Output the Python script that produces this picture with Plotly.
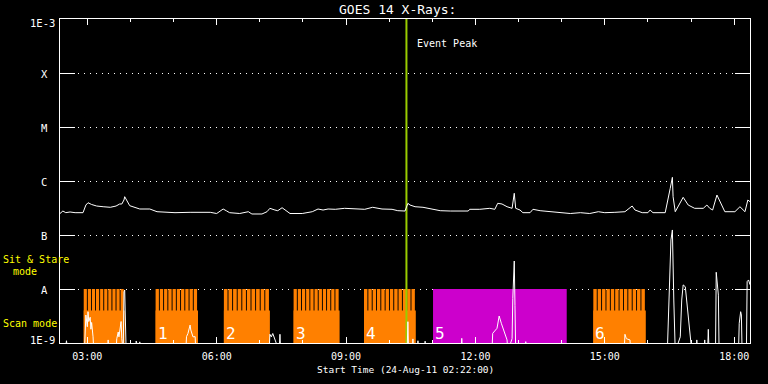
import plotly.graph_objects as go
from datetime import datetime, timedelta

DAY = "2011-08-24"

# ---------------- data ----------------
x_range = ["02:22", "18:22"]
event_peak = "10:24"

# GOES long channel (1-8 A)
long_times = ["02:22","02:26","02:30","02:36","02:43","02:54","02:58","03:01","03:06","03:13",
              "03:22","03:32","03:40","03:45","03:48","03:51","03:52","03:55","03:59","04:13",
              "04:27","04:37","04:48","05:02","05:23","05:37","05:51","06:00","06:06","06:09",
              "06:14","06:18","06:32","06:39","06:44","06:49","07:03","07:10","07:14","07:21",
              "07:25","07:31","07:38","07:42","07:59","08:13","08:21","08:28","08:35","08:45",
              "08:58","09:12","09:26","09:37","09:50","10:04","10:12","10:22","10:26","10:29",
              "10:36","10:47","10:57","11:11","11:25","11:50","11:52","12:06","12:20","12:27",
              "12:31","12:37","12:44","12:51","12:54","12:56","13:02","13:06","13:16","13:20",
              "13:30","13:44","13:58","14:12","14:26","14:39","14:51","15:00","15:14","15:28",
              "15:38","15:42","15:52","16:00","16:03","16:07","16:24","16:28","16:31","16:34",
              "16:35","16:38","16:45","16:49","16:56","17:05","17:17","17:22","17:26","17:30",
              "17:36","17:43","17:47","18:01","18:08","18:15","18:19","18:22"]
long_flux = [2.50e-7,2.78e-7,2.59e-7,2.67e-7,2.59e-7,2.59e-7,3.59e-7,3.96e-7,3.67e-7,3.44e-7,
             3.34e-7,3.26e-7,3.44e-7,3.75e-7,3.75e-7,4.45e-7,5.12e-7,4.26e-7,3.49e-7,3.03e-7,
             3.03e-7,2.70e-7,2.63e-7,2.59e-7,2.63e-7,2.59e-7,2.63e-7,2.50e-7,2.90e-7,3.03e-7,
             2.78e-7,2.59e-7,2.50e-7,2.59e-7,2.70e-7,2.45e-7,2.45e-7,2.70e-7,3.12e-7,2.90e-7,
             2.82e-7,3.20e-7,2.70e-7,2.50e-7,2.50e-7,2.70e-7,3.03e-7,2.90e-7,3.03e-7,2.99e-7,
             3.12e-7,3.03e-7,2.99e-7,3.26e-7,3.03e-7,2.99e-7,2.82e-7,2.78e-7,3.86e-7,3.59e-7,
             3.34e-7,3.26e-7,3.03e-7,2.82e-7,2.78e-7,2.78e-7,2.99e-7,2.99e-7,3.12e-7,2.99e-7,
             3.86e-7,3.75e-7,3.34e-7,3.12e-7,5.92e-7,3.12e-7,2.90e-7,2.59e-7,2.59e-7,2.99e-7,
             2.82e-7,2.70e-7,2.63e-7,2.50e-7,2.59e-7,2.50e-7,2.70e-7,2.59e-7,2.63e-7,2.70e-7,
             3.44e-7,2.90e-7,2.59e-7,2.59e-7,2.90e-7,2.59e-7,2.59e-7,5.12e-7,7.32e-7,1.17e-6,
             5.12e-7,2.70e-7,3.86e-7,4.99e-7,3.59e-7,3.12e-7,3.12e-7,3.59e-7,3.12e-7,2.90e-7,
             5.50e-7,3.34e-7,2.70e-7,2.70e-7,3.34e-7,2.70e-7,4.45e-7,4.14e-7]

# GOES short channel (0.5-4 A)
short_times = ["02:22","02:29","02:31","02:33","02:56","02:57","02:58","03:00","03:01","03:02",
               "03:04","03:05","03:06","03:08","03:09","03:28","03:29","03:30","03:40","03:41",
               "03:43","03:44","03:45","03:47","03:48","03:50","03:51","03:52","03:54","04:07",
               "04:08","04:12","04:13","04:14","05:17","05:18","05:20","05:23","05:24","05:27",
               "05:30","05:31","07:13","07:14","07:16","07:18","07:27","07:28","07:29","10:25",
               "10:26","10:27","10:32","10:33","10:34","10:39","10:40","10:41","10:49","10:50",
               "10:51","11:40","11:41","11:42","12:23","12:24","12:30","12:33","12:36","12:44",
               "12:45","12:51","12:52","12:54","12:55","12:56","13:09","13:10","13:11","15:27",
               "15:28","15:30","15:35","15:36","16:27","16:28","16:29","16:31","16:32","16:34",
               "16:35","16:36","16:38","16:45","16:47","16:49","16:52","16:54","16:56","16:59",
               "17:01","17:07","17:08","17:09","17:18","17:19","17:20","17:23","17:24","17:25",
               "17:34","17:35","17:36","17:38","17:39","18:06","18:07","18:09","18:10","18:11",
               "18:17","18:18","18:20","18:22"]
short_flux = [7e-10,7e-10,1.1e-9,7e-10,7e-10,1.2e-9,3.3e-9,2.0e-9,3.8e-9,2.5e-9,
              3.0e-9,1.8e-9,2.4e-9,1.3e-9,7e-10,7e-10,1.14e-9,7e-10,7e-10,1.2e-9,
              1.6e-9,1.3e-9,1.7e-9,2.5e-9,1.2e-9,7e-10,8.8e-9,9.6e-9,7e-10,7e-10,
              1.09e-9,7e-10,1.05e-9,7e-10,7e-10,1.31e-9,1.5e-9,2.15e-9,1.74e-9,1.3e-9,
              1.31e-9,7e-10,7e-10,1.45e-9,1.3e-9,1.5e-9,7e-10,1.45e-9,7e-10,7e-10,
              2.48e-9,7e-10,7e-10,1.19e-9,7e-10,7e-10,1.1e-9,7e-10,7e-10,1.08e-9,
              7e-10,7e-10,1.22e-9,7e-10,7e-10,1.51e-9,1.87e-9,3.16e-9,2.32e-9,1.14e-9,
              7e-10,1.2e-9,6.7e-9,3.3e-8,5.0e-9,7e-10,7e-10,1.06e-9,7e-10,7e-10,
              1.45e-9,1.2e-9,1.14e-9,7e-10,7e-10,1.9e-9,7.1e-9,3.9e-8,8.1e-8,1.24e-7,
              1.47e-8,6.25e-9,7e-10,1.3e-9,6.25e-9,1.19e-8,1.1e-8,6.25e-9,3.07e-9,1.4e-9,
              7e-10,7e-10,1.14e-9,7e-10,7e-10,1.14e-9,7e-10,7e-10,1.79e-9,7e-10,
              7e-10,2.04e-8,1.47e-8,7.7e-9,7e-10,7e-10,2.32e-9,3.8e-9,3.3e-9,7e-10,
              7e-10,1.37e-8,1.47e-8,1.2e-8]

# Observation modes
scan_start = ["02:55", "04:35", "06:10", "07:47", "09:25", "14:44"]
scan_end = ["03:52", "05:34", "07:14", "08:51", "10:37", "15:57"]
scan_count = [10, 10, 10, 11, 12, 12]
scan_labels = ["", "1", "2", "3", "4", "6"]
scan_gap_min = 1.3
scan_solid_top = 4.0e-9
mode_bottom, mode_top = 1e-9, 1e-8
stare_start, stare_end, stare_label = "11:01", "14:07", "5"

ytick_vals = [-9, -8, -7, -6, -5, -4, -3]
ytick_text = ["1E-9", "A", "B", "C", "M", "X", "1E-3"]

# ---------------- helpers ----------------
def T(hm):
    return datetime.strptime(f"{DAY} {hm}", "%Y-%m-%d %H:%M")

FONT = "DejaVu Sans Mono"
L, R, TOP, BOT, W, H = 60, 750, 19, 343, 768, 384
def px(x):
    return (x - L) / (R - L)
def py(y):
    return (BOT - y) / (BOT - TOP)
def F(size=10, color="white"):
    return dict(size=size, color=color, family=FONT)

fig = go.Figure()

# solid lower parts of scan blocks
sx, sy = [], []
for s, e in zip(scan_start, scan_end):
    a, b = T(s), T(e)
    sx += [a, b, b, a, a, None]
    sy += [mode_bottom, mode_bottom, scan_solid_top, scan_solid_top, mode_bottom, None]
fig.add_trace(go.Scatter(x=sx, y=sy, mode="lines", fill="toself", fillcolor="#ff8000",
                         line=dict(width=0, color="#ff8000"), hoverinfo="skip"))

# individual scans (stripes)
stx, sty = [], []
for s, e, n in zip(scan_start, scan_end, scan_count):
    a, b = T(s), T(e)
    per = (b - a) / n
    for i in range(n):
        c0 = a + per * i
        c1 = c0 + per - timedelta(minutes=scan_gap_min)
        stx += [c0, c1, c1, c0, c0, None]
        sty += [mode_bottom, mode_bottom, mode_top, mode_top, mode_bottom, None]
fig.add_trace(go.Scatter(x=stx, y=sty, mode="lines", fill="toself", fillcolor="#ff8000",
                         line=dict(width=0, color="#ff8000"), hoverinfo="skip"))

# sit & stare block
a, b = T(stare_start), T(stare_end)
fig.add_trace(go.Scatter(x=[a, b, b, a, a], y=[mode_bottom, mode_bottom, mode_top, mode_top, mode_bottom],
                         mode="lines", fill="toself", fillcolor="#cc00cc",
                         line=dict(width=0, color="#cc00cc"), hoverinfo="skip"))

# event peak line
fig.add_trace(go.Scatter(x=[T(event_peak), T(event_peak)], y=[1e-9, 1e-3], mode="lines",
                         line=dict(color="#99cc00", width=2), hoverinfo="skip"))

# GOES curves
fig.add_trace(go.Scatter(x=[T(t) for t in long_times], y=long_flux, mode="lines",
                         line=dict(color="white", width=1), hoverinfo="skip"))
fig.add_trace(go.Scatter(x=[T(t) for t in short_times], y=short_flux, mode="lines",
                         line=dict(color="white", width=1), hoverinfo="skip"))

ann = []
# y labels
for v, t in zip(ytick_vals, ytick_text):
    if t == "1E-3":
        ann.append(dict(x=px(57), y=v, xref="paper", yref="y", text=t, xanchor="right",
                        yanchor="middle", yshift=-3.5, showarrow=False, font=F(10.5)))
    elif t == "1E-9":
        ann.append(dict(x=px(57), y=v, xref="paper", yref="y", text=t, xanchor="right",
                        yanchor="middle", yshift=3, showarrow=False, font=F(10.5)))
    else:
        ann.append(dict(x=px(44), y=v, xref="paper", yref="y", text=t, xanchor="center",
                        yanchor="middle", yshift=-1, showarrow=False, font=F(10.5)))
# block labels
for s, lab in zip(scan_start + [stare_start], scan_labels + [stare_label]):
    if lab:
        ann.append(dict(x=T(s), y=-8.824, xref="x", yref="y", text=lab, xanchor="left",
                        yanchor="middle", showarrow=False, font=F(16)))
# event peak text
ann.append(dict(x=T(event_peak), y=py(43), xref="x", yref="paper", text="Event Peak",
                xanchor="left", yanchor="middle", xshift=9, showarrow=False, font=F(10)))
# title and x title
ann.append(dict(x=px(397), y=py(9), xref="paper", yref="paper", text="GOES 14 X-Rays:",
                xanchor="center", yanchor="middle", showarrow=False, font=F(13)))
ann.append(dict(x=px(405), y=py(369), xref="paper", yref="paper", text="Start Time (24-Aug-11 02:22:00)",
                xanchor="center", yanchor="middle", showarrow=False, font=F(9.5)))
# mode labels
YEL = "#ffff00"
ann.append(dict(x=px(1), y=py(259), xref="paper", yref="paper", text="Sit & Stare", xanchor="left",
                yanchor="middle", showarrow=False, font=F(10, YEL)))
ann.append(dict(x=px(24.5), y=py(271), xref="paper", yref="paper", text="mode", xanchor="center",
                yanchor="middle", showarrow=False, font=F(10, YEL)))
ann.append(dict(x=px(1), y=py(323.5), xref="paper", yref="paper", text="Scan mode", xanchor="left",
                yanchor="middle", showarrow=False, font=F(10, YEL)))

fig.update_layout(
    width=W, height=H, showlegend=False,
    paper_bgcolor="black", plot_bgcolor="black",
    margin=dict(l=L, r=W - R, t=TOP, b=H - BOT, pad=0),
    font=dict(family=FONT, size=10, color="white"),
    annotations=ann,
    xaxis=dict(type="date", range=[T(x_range[0]), T(x_range[1])],
               showline=True, linecolor="white", linewidth=1, mirror="ticks",
               ticks="inside", ticklen=6, tickcolor="white", tickwidth=1,
               tick0=f"{DAY} 00:00", dtick=3 * 3600000, tickformat="%H:%M",
               tickfont=F(10), ticklabelstandoff=4,
               showgrid=False, zeroline=False,
               minor=dict(dtick=3600000, ticks="inside", ticklen=3, tickcolor="white", showgrid=False)),
    yaxis=dict(type="log", range=[-9, -3], tickvals=[10.0 ** v for v in ytick_vals],
               showline=True, linecolor="white", linewidth=1, mirror="ticks",
               ticks="inside", ticklen=15, tickcolor="white", tickwidth=1,
               showticklabels=False, showgrid=True, gridcolor="white", gridwidth=1,
               griddash="1px,5px", zeroline=False),
)

fig.write_html("out.html", config={"displayModeBar": False},
               post_script="document.body.style.margin='0';document.body.style.padding='0';"
                           "document.body.style.background='black';")
